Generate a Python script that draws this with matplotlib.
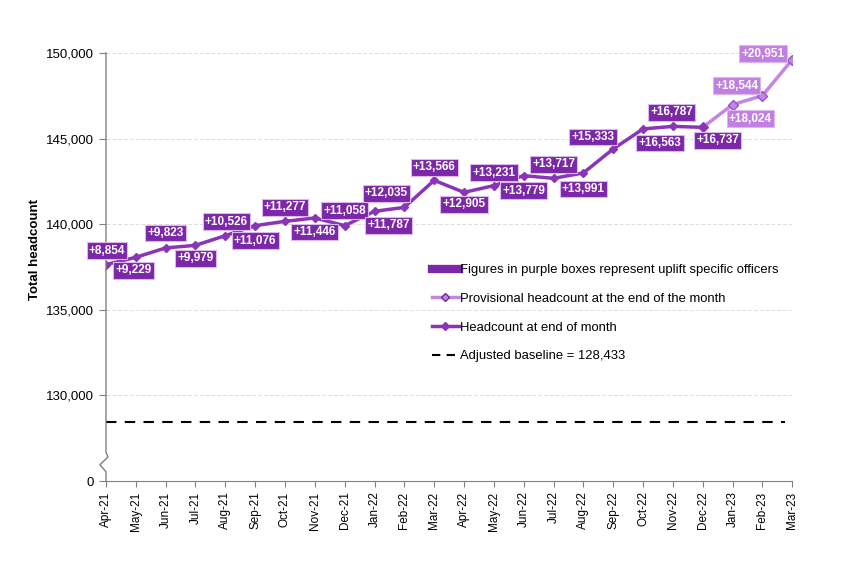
import numpy as np
import matplotlib
matplotlib.use("Agg")
import matplotlib.pyplot as plt
import matplotlib.transforms as mtransforms
from matplotlib.lines import Line2D

plt.rcParams['font.family'] = ['Liberation Sans', 'DejaVu Sans']

# data
months = ['Apr-21', 'May-21', 'Jun-21', 'Jul-21', 'Aug-21', 'Sep-21', 'Oct-21', 'Nov-21',
          'Dec-21', 'Jan-22', 'Feb-22', 'Mar-22', 'Apr-22', 'May-22', 'Jun-22', 'Jul-22',
          'Aug-22', 'Sep-22', 'Oct-22', 'Nov-22', 'Dec-22', 'Jan-23', 'Feb-23', 'Mar-23']
headcount = [137637, 138063, 138612, 138764, 139330, 139914, 140166, 140364,
             139914, 140750, 140983, 142560, 141859, 142250, 142834, 142677,
             142992, 144394, 145562, 145713, 145655]
provisional = [145655, 146981, 147506, 149609]
uplift = ['+8,854', '+9,229', '+9,823', '+9,979', '+10,526', '+11,076', '+11,277', '+11,446',
          '+11,058', '+11,787', '+12,035', '+13,566', '+12,905', '+13,231', '+13,779', '+13,717',
          '+13,991', '+15,333', '+16,563', '+16,787', '+16,737', '+18,544', '+18,024', '+20,951']
baseline = 128433

# where each uplift box sits relative to its point (pixels)
label_dx = [1, -2, 0, 0, 1, 0, 0, 0, 0, 14, -18, 0, 0, 0, 0, 0, 0, -20, 17, -1, 15, 4, -12, -29]
label_dy = [14, -13, 15, -13, 14, -15, 14, -14, 15, -14, 14, 13, -12, 13, -15, 14, -16,
            12, -14, 14, -13, 19, -23, 6]

dark = '#8A35B8'
box_dark = '#7B27A8'
light = '#C386E3'
box_light = '#C27FE3'

fig = plt.figure(figsize=(8.41, 5.61), dpi=100)
ax = fig.add_axes([0.126, 0.1426, 0.816, 0.763])

x = np.arange(len(months))
x_prov = x[len(headcount) - 1:]

ax.plot(x_prov, provisional, color=light, lw=2.5, marker='D', ms=5,
        mfc=light, mec='#9A4FCB', zorder=3)
ax.plot(x[:len(headcount)], headcount, color=dark, lw=2.5, marker='D', ms=4.5,
        mfc=dark, mec=dark, zorder=4)
ax.plot([x[0], x[-1] - 0.25], [baseline, baseline], color='black', lw=1.5,
        ls=(0, (5, 4)), zorder=2)

values = headcount + provisional[1:]
for i, (v, lab) in enumerate(zip(values, uplift)):
    fc = box_dark if i < len(headcount) else box_light
    ax.annotate(lab, (x[i], v), xytext=(label_dx[i], label_dy[i]), textcoords='offset pixels',
                ha='center', va='center', color='white', fontsize=8.5, fontweight='bold',
                bbox=dict(boxstyle='square,pad=0.19', fc=fc, ec='#D9B8EC', lw=0.8),
                zorder=6)

ax.set_xlim(x[0], x[-1])
ax.set_ylim(125000, 150000)
yt = [125000, 130000, 135000, 140000, 145000, 150000]
ax.set_yticks(yt)
ax.set_yticklabels(['0'] + [f'{t:,}' for t in yt[1:]], fontsize=9.5)
ax.set_xticks(x)
ax.set_xticklabels(months, rotation=90, fontsize=8.5)
ax.tick_params(axis='both', colors='#808080', length=4, labelcolor='black')
ax.tick_params(axis='y', length=5)

for t in yt[1:]:
    ax.axhline(t, color='#DDDDDD', lw=0.7, ls=(0, (4, 2)), zorder=1)

for s in ['top', 'right', 'left']:
    ax.spines[s].set_visible(False)
ax.spines['bottom'].set_color('#808080')

# broken y axis line with zigzag
tr = mtransforms.blended_transform_factory(ax.transAxes, ax.transData)
px = 1 / (ax.get_position().width * 841)
ax.plot([0, 0, 2 * px, -6 * px, 0, 0],
        [150000, 126700, 126400, 125950, 125540, 125000],
        color='#808080', lw=1, transform=tr, clip_on=False, zorder=5)

ax.set_ylabel('Total headcount', fontsize=9.5, fontweight='bold')
ax.yaxis.set_label_coords(-0.094, 0.54)

handles = [
    Line2D([], [], color=box_dark, lw=6),
    Line2D([], [], color=light, lw=2.5, marker='D', ms=4, mfc=light, mec='#6A2A8F'),
    Line2D([], [], color=dark, lw=2.5, marker='D', ms=4, mfc=dark, mec=dark),
    Line2D([], [], color='black', lw=1.5, ls=(0, (4, 3))),
]
names = ['Figures in purple boxes represent uplift specific officers',
         'Provisional headcount at the end of the month',
         'Headcount at end of month',
         'Adjusted baseline = 128,433']
ax.legend(handles, names, loc='upper left', bbox_to_anchor=(0.467, 0.519),
          frameon=False, fontsize=9.4, handlelength=2.1, handletextpad=0.1,
          labelspacing=1.27, borderaxespad=0)

fig.savefig('out.png', dpi=100)
